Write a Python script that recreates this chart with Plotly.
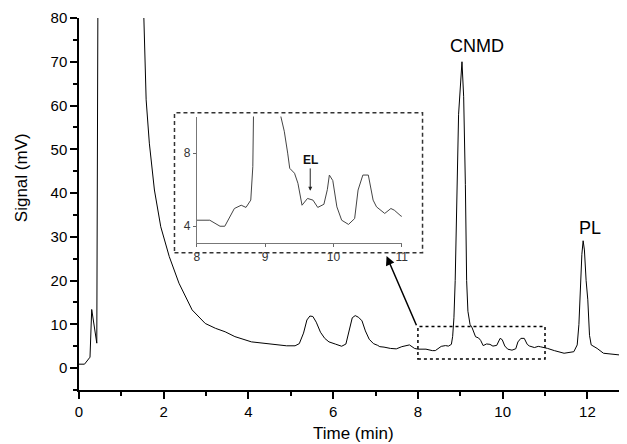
import plotly.graph_objects as go

# chromatogram (time in min, signal in mV)
time_min = [0.0, 0.13, 0.26, 0.30, 0.42, 0.445, 0.46, 1.50, 1.53, 1.585, 1.66, 1.78,
            1.93, 2.13, 2.36, 2.67, 2.98, 3.22, 3.45, 3.68, 4.07, 4.69, 4.9, 5.1,
            5.2, 5.3, 5.38, 5.45, 5.52, 5.6, 5.7, 5.8, 5.9, 6.05, 6.2, 6.3, 6.38,
            6.45, 6.52, 6.6, 6.68, 6.76, 6.85, 6.95, 7.05, 7.1, 7.2, 7.35, 7.49,
            7.62, 7.8, 7.92,
            8.0, 8.19, 8.34, 8.41, 8.55, 8.65, 8.72, 8.79, 8.82, 8.85, 8.88, 8.92,
            8.96, 9.04, 9.08, 9.12, 9.15, 9.18, 9.23, 9.28, 9.33, 9.36, 9.43, 9.48,
            9.54, 9.62, 9.70, 9.77, 9.86, 9.91, 9.94, 9.99, 10.05, 10.12, 10.22,
            10.31, 10.36, 10.43, 10.51, 10.58, 10.63, 10.75, 10.84, 10.89, 10.99,
            11.06, 11.22, 11.45, 11.68, 11.76, 11.8, 11.84, 11.87, 11.90, 11.93,
            11.97, 12.01, 12.05, 12.09, 12.23, 12.38, 12.77]
signal_mv = [0.9, 0.9, 2.5, 13.4, 5.7, 80.0, 200.0, 200.0, 80.3, 61.3, 51.4, 40.7,
             32.3, 25.5, 19.4, 13.3, 10.2, 9.1, 8.3, 7.2, 6.0, 5.3, 5.1, 5.1,
             5.6, 8.0, 11.0, 11.9, 11.8, 10.5, 8.2, 6.8, 6.0, 5.5, 5.0, 5.5, 8.5,
             11.5, 12.0, 11.6, 10.8, 8.5, 6.6, 5.6, 5.2, 4.9, 4.8, 4.5, 4.4,
             4.9, 5.3, 4.5,
             4.33, 4.33, 4.0, 4.0, 4.97, 5.15, 5.03, 5.43, 7.26, 11.5, 20.0, 40.0,
             58.0, 70.0, 62.0, 42.0, 20.0, 13.0, 10.0, 9.2, 8.0, 7.17, 6.9, 6.35,
             5.15, 5.52, 5.43, 5.03, 5.2, 6.0, 6.8, 6.5, 5.06, 4.33, 4.1,
             4.42, 5.98, 6.8, 6.8, 5.43, 5.06, 4.7, 4.97, 4.88, 4.55,
             4.5, 4.0, 3.4, 3.75, 5.3, 10.0, 20.0, 26.0, 29.1, 27.0,
             20.0, 15.6, 7.5, 5.3, 4.5, 3.4, 3.0]

x_ticks = [0, 2, 4, 6, 8, 10, 12]
y_ticks = [0, 10, 20, 30, 40, 50, 60, 70, 80]
inset_x_ticks = [8, 9, 10, 11]
inset_y_ticks = [4, 8]

FONT = "Arial, Liberation Sans, sans-serif"

fig = go.Figure()

fig.add_trace(go.Scatter(x=time_min, y=signal_mv, mode="lines",
                         line=dict(color="black", width=1),
                         xaxis="x", yaxis="y", showlegend=False))
fig.add_trace(go.Scatter(x=time_min, y=signal_mv, mode="lines",
                         line=dict(color="#444444", width=1),
                         xaxis="x2", yaxis="y2", showlegend=False))

# dotted zoom window on the main trace
fig.add_shape(type="rect", xref="x", yref="y", x0=8, x1=11, y0=2.1, y1=9.5,
              line=dict(color="black", width=1.5, dash="dot"))
# dashed frame round the inset
fig.add_shape(type="rect", xref="paper", yref="paper", x0=0.1765, x1=0.635,
              y0=0.369, y1=0.745,
              line=dict(color="#333333", width=1.5, dash="4px,3px"))

annotations = [
    dict(x=7.26, y=25.6, ax=7.98, ay=9.46, xref="x", yref="y", axref="x", ayref="y",
         text="", showarrow=True, arrowhead=2, arrowsize=1.2, arrowwidth=1.5,
         arrowcolor="black"),
    dict(x=9.4, y=73.5, xref="x", yref="y", text="CNMD", showarrow=False,
         font=dict(family=FONT, size=18, color="black")),
    dict(x=12.07, y=32, xref="x", yref="y", text="PL", showarrow=False,
         font=dict(family=FONT, size=18, color="black")),
    dict(x=9.66, y=5.94, ax=9.66, ay=7.63, xref="x2", yref="y2", axref="x2", ayref="y2",
         text="<b>EL</b>", showarrow=True, arrowhead=2, arrowsize=0.8, arrowwidth=1,
         arrowcolor="#222222", font=dict(family=FONT, size=12, color="#111111")),
    dict(x=0.508, y=-0.116, xref="paper", yref="paper", text="Time (min)",
         xanchor="center", yanchor="middle", showarrow=False,
         font=dict(family=FONT, size=17, color="black")),
    dict(x=-0.105, y=0.57, xref="paper", yref="paper", text="Signal (mV)",
         xanchor="center", yanchor="middle", textangle=-90, showarrow=False,
         font=dict(family=FONT, size=17, color="black")),
]

# the page body has an 8px margin, so the figure is shifted by that much
fig.update_layout(
    width=619, height=436,
    margin=dict(l=71, r=0, t=10, b=54),
    plot_bgcolor="white", paper_bgcolor="white",
    showlegend=False,
    annotations=annotations,
    xaxis=dict(domain=[0, 1], range=[0, 12.77], tickvals=x_ticks, ticks="outside",
               ticklen=7, tickwidth=1.5, tickcolor="black", showline=True,
               linecolor="black", linewidth=1.5, showgrid=False, zeroline=False,
               tickfont=dict(family=FONT, size=15, color="black"),
               minor=dict(dtick=1, tick0=0, ticks="outside", ticklen=4,
                          tickcolor="black", tickwidth=1.5, showgrid=False)),
    yaxis=dict(domain=[0, 1], range=[-5, 80], tickvals=y_ticks, ticks="outside",
               ticklen=7, tickwidth=1.5, tickcolor="black", showline=True,
               linecolor="black", linewidth=1.5, showgrid=False, zeroline=False,
               tickfont=dict(family=FONT, size=15, color="black"),
               minor=dict(dtick=5, tick0=0, ticks="outside", ticklen=4,
                          tickcolor="black", tickwidth=1.5, showgrid=False)),
    xaxis2=dict(domain=[0.2177, 0.5967], anchor="y2", range=[8, 11],
                tickvals=inset_x_ticks, ticks="outside", ticklen=3,
                tickcolor="#666666", showline=True, linecolor="#777777",
                linewidth=1, showgrid=False, zeroline=False,
                tickfont=dict(family=FONT, size=12, color="#333333")),
    yaxis2=dict(domain=[0.396, 0.735], anchor="x2", range=[3.1, 10],
                tickvals=inset_y_ticks, ticks="outside", ticklen=3,
                tickcolor="#666666", showline=True, linecolor="#777777",
                linewidth=1, showgrid=False, zeroline=False,
                tickfont=dict(family=FONT, size=12, color="#333333")),
)

fig.write_html("out.html")
